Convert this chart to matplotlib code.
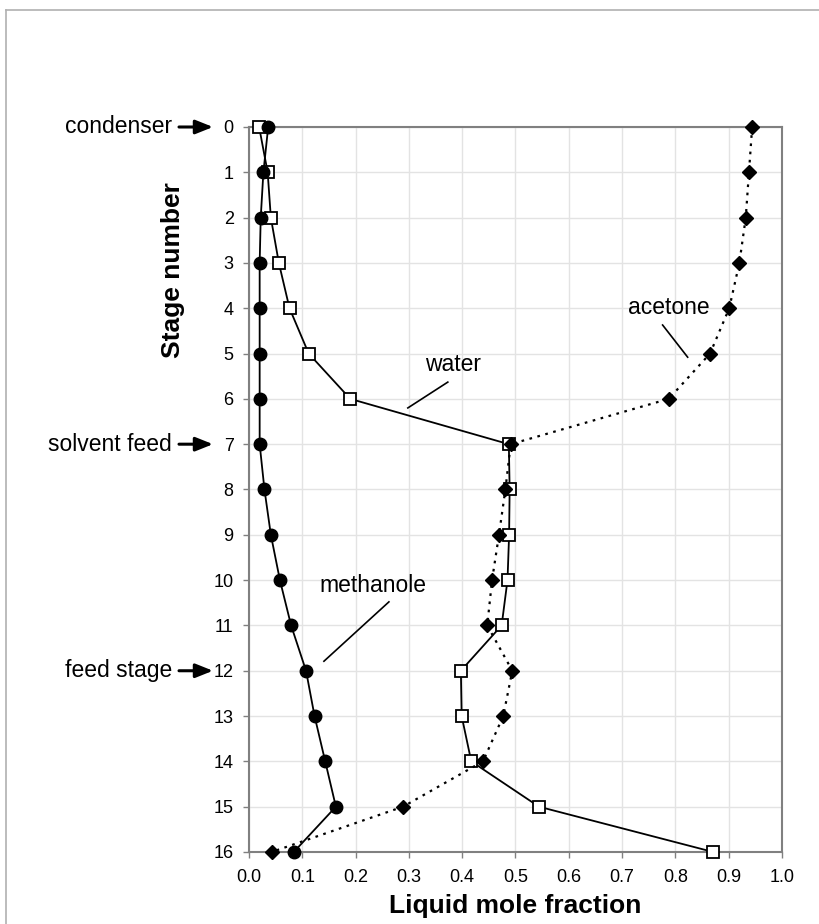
import matplotlib
matplotlib.use("Agg")
import matplotlib.pyplot as plt
import matplotlib.transforms as mtransforms
from matplotlib.lines import Line2D

plt.rcParams['font.family'] = ['Liberation Sans', 'DejaVu Sans']

# ---- data ----
stages = list(range(17))
methanole = [0.036, 0.027, 0.022, 0.020, 0.020, 0.020, 0.020, 0.020, 0.029,
             0.041, 0.058, 0.079, 0.107, 0.123, 0.143, 0.163, 0.084]
water = [0.019, 0.035, 0.041, 0.056, 0.076, 0.112, 0.190, 0.4875, 0.489,
         0.488, 0.485, 0.474, 0.3975, 0.399, 0.417, 0.544, 0.871]
acetone = [0.944, 0.938, 0.932, 0.920, 0.901, 0.865, 0.7875, 0.491, 0.481,
           0.469, 0.456, 0.447, 0.494, 0.477, 0.439, 0.289, 0.0425]
x_ticks = [0.0, 0.1, 0.2, 0.3, 0.4, 0.5, 0.6, 0.7, 0.8, 0.9, 1.0]
stage_labels = [("condenser", 0), ("solvent feed", 7), ("feed stage", 12)]

W, H = 820, 924
fig = plt.figure(figsize=(W / 100, H / 100), dpi=100)
L, R, T, B = 249, 782, 127, 852
ax = fig.add_axes([L / W, 1 - B / H, (R - L) / W, (B - T) / H])

ax.set_xlim(0, 1)
ax.set_ylim(16, 0)
ax.set_xticks(x_ticks)
ax.set_xticklabels([f"{v:.1f}" for v in x_ticks])
ax.set_yticks(stages)
ax.grid(True, color='#e3e3e3', lw=1)
ax.set_axisbelow(True)
for s in ax.spines.values():
    s.set_color('#808080')
    s.set_linewidth(1.5)
ax.tick_params(axis='both', colors='#808080', labelcolor='black',
               labelsize=13, length=4, width=1, direction='out')
ax.tick_params(axis='y', pad=7)
ax.tick_params(axis='x', pad=8)

ax.plot(water, stages, color='black', lw=1.3, marker='s', ms=8,
        mfc='white', mec='black', mew=1.3, clip_on=False, zorder=3)
ax.plot(acetone, stages, color='black', lw=1.6, ls=(0, (1.2, 2.5)),
        marker='D', ms=7.2, mfc='black', mec='black', clip_on=False, zorder=4)
ax.plot(methanole, stages, color='black', lw=1.3, marker='o', ms=9,
        mfc='black', mec='black', clip_on=False, zorder=5)

ax.set_xlabel("Liquid mole fraction", fontsize=19, fontweight='bold', labelpad=6)
fig.text(173 / W, 1 - 270 / H, "Stage number", rotation=90, fontsize=19,
         fontweight='bold', ha='center', va='center')

# curve labels
ax.text(0.3825, 5.25, "water", fontsize=16.5, ha='center', va='center')
ax.plot([0.373, 0.298], [5.63, 6.20], color='black', lw=1.2)
ax.text(0.7875, 3.99, "acetone", fontsize=16.5, ha='center', va='center')
ax.plot([0.776, 0.823], [4.37, 5.08], color='black', lw=1.2)
ax.text(0.2325, 10.11, "methanole", fontsize=16.5, ha='center', va='center')
ax.plot([0.2625, 0.1406], [10.48, 11.79], color='black', lw=1.2)

# stage labels with arrows
trans = mtransforms.blended_transform_factory(fig.transFigure, ax.transData)
for name, st in stage_labels:
    ax.text(172 / W, st, name, transform=trans, ha='right', va='center',
            fontsize=16.5, clip_on=False)
    ax.annotate('', xy=(213 / W, st), xycoords=trans,
                xytext=(179 / W, st), textcoords=trans,
                arrowprops=dict(arrowstyle='-|>,head_length=0.7,head_width=0.28',
                                color='black', lw=2.2, mutation_scale=15,
                                shrinkA=0, shrinkB=0))

# outer frame
fig.add_artist(Line2D([6.5 / W, 6.5 / W], [0, 1 - 9.5 / H],
                      transform=fig.transFigure, color='#b0b0b0', lw=1.2))
fig.add_artist(Line2D([6.5 / W, 1], [1 - 9.5 / H, 1 - 9.5 / H],
                      transform=fig.transFigure, color='#b0b0b0', lw=1.2))

fig.savefig("out.png", dpi=100)
